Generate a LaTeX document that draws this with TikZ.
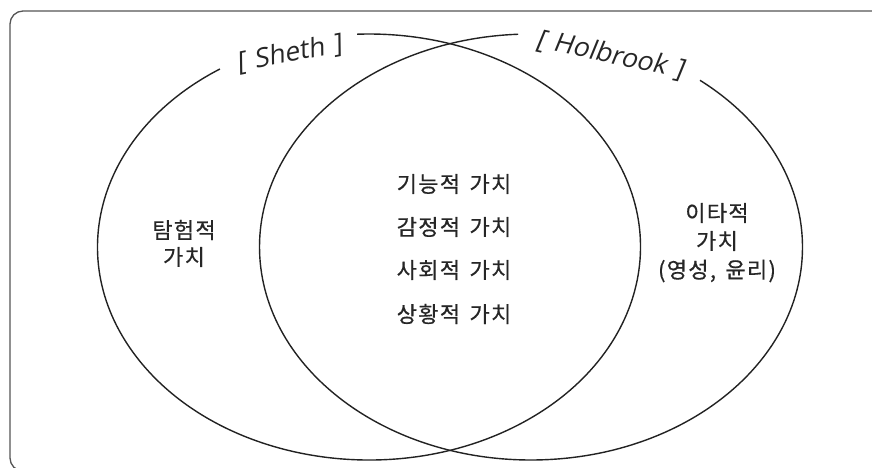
\documentclass[tikz,border=0pt]{standalone}
\usepackage{fontspec}
\newfontfamily\krfont[LetterSpace=6, WordSpace=1.5, FakeBold=0.6]{Noto Sans CJK KR}
\newfontfamily\latfont[FakeSlant=0.18, WordSpace=1.3]{Open Sans}
\definecolor{ink}{HTML}{222222}
\definecolor{txt}{HTML}{262626}
\definecolor{framec}{HTML}{555555}
\begin{document}
\begin{tikzpicture}[x=1pt,y=1pt,
  venn/.style={draw=ink, line width=1.4pt},
  frm/.style={draw=framec, line width=1.3pt, rounded corners=13pt},
  kr/.style={font=\krfont\fontsize{22}{26}\selectfont, text=txt, inner sep=0pt},
  lab/.style={font=\latfont\fontsize{26.5}{30}\selectfont, text=txt, inner sep=0pt}]
\useasboundingbox (0,0) rectangle (872,467);
\begin{scope}
\clip (0,0) rectangle (872,467);
\draw[frm] (10,-4) rectangle (895,456);
\end{scope}
% left ellipse (Sheth)
\coordinate (lc) at (369,220);
\draw[venn] (lc) ++(123.3:271.5pt and 213pt)
  arc[start angle=123.3, end angle=452.5, x radius=271.5pt, y radius=213pt];
% right ellipse (Holbrook)
\coordinate (rc) at (531,220);
\draw[venn] (rc) ++(92.7:271.5pt and 213pt)
  arc[start angle=92.7, end angle=411.5, x radius=271.5pt, y radius=213pt];
% labels
\node[lab, rotate=11] (sheth) at (289,413) {[ Sheth ]};
\node[lab, rotate=-12] (holbrook) at (610,412) {[ Holbrook ]};
% center texts
\node[kr] (c1) at (454,283) {기능적 가치};
\node[kr] (c2) at (454,240) {감정적 가치};
\node[kr] (c3) at (454,197) {사회적 가치};
\node[kr] (c4) at (454,153) {상황적 가치};
% left texts
\node[kr] (l1) at (184,237) {탐험적};
\node[kr] (l2) at (184,210) {가치};
% right texts
\node[kr] (r1) at (717,254) {이타적};
\node[kr] (r2) at (717,226) {가치};
\node[kr] (r3) at (717,196) {(영성, 윤리)};
\end{tikzpicture}
\end{document}
